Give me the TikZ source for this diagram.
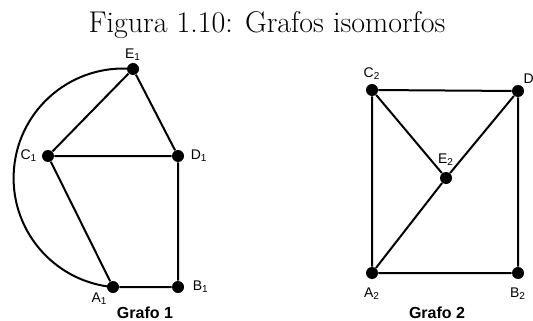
\documentclass[tikz,border=0pt]{standalone}
\usepackage{fontspec}
\newfontfamily\lblfont{Liberation Sans}
\usepackage{tikz}

\begin{document}
\begin{tikzpicture}[x=0.5pt,y=-0.5pt,
  vtx/.style={circle,fill=black,inner sep=0pt,minimum size=6pt},
  gedge/.style={line width=1pt},
  lbl/.style={font=\lblfont\fontsize{7}{8}\selectfont,inner sep=1pt},
  grafocap/.style={font=\lblfont\bfseries\fontsize{8}{9}\selectfont}]
\useasboundingbox (0,0) rectangle (533,320);
% title
\node[anchor=base,font=\fontsize{15}{18}\selectfont] (title) at (267,33) {Figura 1.10: Grafos isomorfos};
% grafo 1
\node[vtx,label={[lbl,label distance=0pt]above:E\textsubscript{1}}] (E1) at (133,69) {};
\node[vtx,label={[lbl,label distance=1pt]left:C\textsubscript{1}}] (C1) at (48,156) {};
\node[vtx,label={[lbl,label distance=2pt]right:D\textsubscript{1}}] (D1) at (178,156) {};
\node[vtx,label={[lbl,label distance=-1pt]below left:A\textsubscript{1}}] (A1) at (113,287) {};
\node[vtx,label={[lbl,label distance=3pt]right:B\textsubscript{1}}] (B1) at (178,287) {};
\draw[gedge] (E1) -- (C1) -- (D1) -- (E1);
\draw[gedge] (C1) -- (A1) -- (B1) -- (D1);
\draw[gedge] (E1.center) arc[start angle=-84.8,end angle=-264.8,radius=109.5];
\node[grafocap] (g1) at (145,313) {Grafo 1};
% grafo 2
\node[vtx,label={[lbl,label distance=1pt]above:C\textsubscript{2}}] (C2) at (372,90) {};
\node[vtx,label={[lbl,label distance=-1pt]above right:D\textsubscript{2}}] (D2) at (518,91) {};
\node[vtx,label={[lbl,label distance=2pt]above:E\textsubscript{2}}] (E2) at (446,178) {};
\node[vtx,label={[lbl,label distance=3pt]below:A\textsubscript{2}}] (A2) at (372,273) {};
\node[vtx,label={[lbl,label distance=3pt]below:B\textsubscript{2}}] (B2) at (518,273) {};
\draw[gedge] (C2) -- (D2) -- (B2) -- (A2) -- (C2);
\draw[gedge] (C2) -- (E2) -- (D2);
\draw[gedge] (E2) -- (A2);
\node[grafocap] (g2) at (437,313) {Grafo 2};
\end{tikzpicture}
\end{document}
